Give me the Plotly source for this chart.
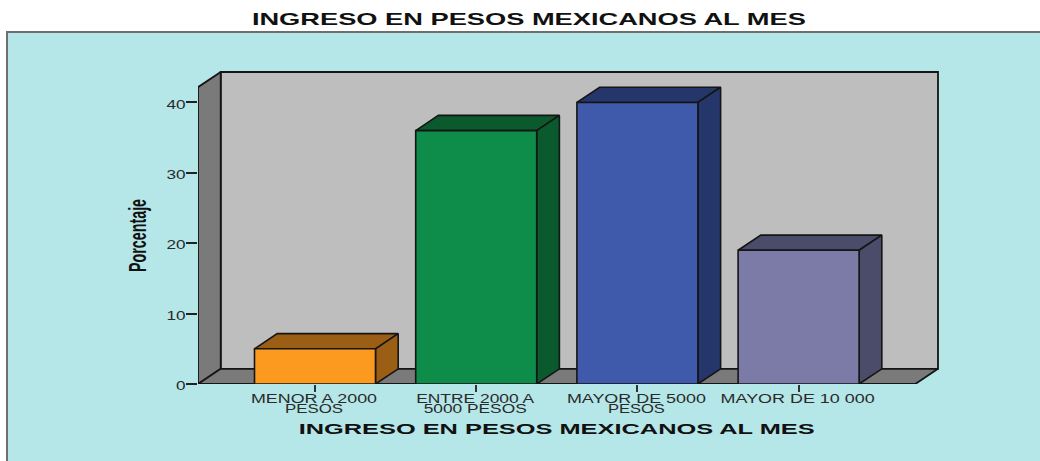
import json
import plotly.graph_objects as go

# Income distribution data
categories = [["MENOR A 2000", "PESOS"], ["ENTRE 2000 A", "5000 PESOS"],
              ["MAYOR DE 5000", "PESOS"], ["MAYOR DE 10 000"]]
values = [5, 36, 40, 19]
front_colors = ["#FB9A1F", "#0E8C49", "#3F5AAB", "#7C7BA8"]
side_colors = ["#9A5F14", "#0A5A2E", "#25366B", "#4B4B6A"]
y_ticks = [0, 10, 20, 30, 40]
title_text = "INGRESO EN PESOS MEXICANOS AL MES"
y_title = "Porcentaje"

# Figure layout in pixels
W, H = 1040, 461
PL, PB = 198, 384.5
BOX_R, BOX_T = 938, 72      # outer edge of the 3D box
AREA_R, AREA_T = 942, 68    # plot area, a little larger so box outlines are not cut
PX_PER_CAT = 161.2
PX_PER_UNIT = 7.05
X0_PX = 315
DEPTH_X = 22.7 / PX_PER_CAT
DEPTH_Y = 15.2 / PX_PER_UNIT
BAR_W = 121 / PX_PER_CAT
X_MIN = (PL - X0_PX) / PX_PER_CAT
X_MAX = (BOX_R - X0_PX) / PX_PER_CAT
Y_MAX = (PB - BOX_T) / PX_PER_UNIT
WALL_TOP = Y_MAX - DEPTH_Y
EDGE = "#151515"
LABEL_COLOR = "#2a2a2a"
SANS = "Liberation Sans"

# Rendered widths of the wide-set labels, in pixels
label_widths = [[126, 58], [118, 103], [139, 57], [154]]
LABEL_LEADING = 9.7
TICK_STRETCH = 1.43


def px(x):
    return (x - PL) / (AREA_R - PL)


def py(y):
    return (PB - y) / (PB - AREA_T)


def poly(xs, ys, fill, width=1.6, edge=EDGE):
    return go.Scatter(x=xs + xs[:1], y=ys + ys[:1], mode="lines", fill="toself",
                      fillcolor=fill, line=dict(color=edge, width=width),
                      cliponaxis=False, showlegend=False, hoverinfo="skip")


fig = go.Figure()

# Back wall, left wall and floor of the 3D box
back_l, back_r = X_MIN + DEPTH_X, X_MAX
front_r = X_MAX - DEPTH_X
fig.add_trace(poly([back_l, back_r, back_r, back_l],
                   [DEPTH_Y, DEPTH_Y, Y_MAX, Y_MAX], "#BEBEBE", width=1.8))
fig.add_trace(poly([X_MIN, back_l, back_l, X_MIN],
                   [0, DEPTH_Y, Y_MAX, WALL_TOP], "#7A7A7A", width=1.8))
fig.add_trace(poly([X_MIN, front_r, back_r, back_l],
                   [0, 0, DEPTH_Y, DEPTH_Y], "#7A7A7A", width=1.8))

# Extruded bars: top, side, then front face
for i, v in enumerate(values):
    l, r = i - BAR_W / 2, i + BAR_W / 2
    fig.add_trace(poly([l, r, r + DEPTH_X, l + DEPTH_X],
                       [v, v, v + DEPTH_Y, v + DEPTH_Y], side_colors[i]))
    fig.add_trace(poly([r, r + DEPTH_X, r + DEPTH_X, r],
                       [0, DEPTH_Y, v + DEPTH_Y, v], side_colors[i]))
    fig.add_trace(poly([l, r, r, l], [0, 0, v, v], front_colors[i]))


def note(text, x, y, size, angle=0):
    return dict(text=text, x=x, xref="paper", y=py(y), yref="paper", showarrow=False,
                xanchor="center", yanchor="middle", textangle=angle,
                font=dict(family=SANS, size=size, color="#111", weight="bold"))


annotations = [
    note(title_text, px(529), 19.5, 17),
    note(title_text, px(556.5), 429, 15.5),
    note(y_title, px(137.5), 236, 23, angle=-90),
]
text_widths = [554, 516, 73]

panel = dict(type="rect", xref="paper", yref="paper", layer="below",
             x0=px(7), x1=px(1050), y0=py(32), y1=py(475),
             fillcolor="#B5E6E8", line=dict(color="#6E6E6E", width=2))

fig.update_layout(
    width=W, height=H, autosize=False,
    margin=dict(l=PL, r=W - AREA_R, t=AREA_T, b=H - PB, pad=0),
    paper_bgcolor="white", plot_bgcolor="rgba(0,0,0,0)",
    shapes=[panel], annotations=annotations,
    xaxis=dict(range=[X_MIN, (AREA_R - X0_PX) / PX_PER_CAT], tickmode="array",
               tickvals=list(range(len(categories))),
               ticktext=["<br>".join(lines) for lines in categories],
               tickangle=0, ticks="outside", ticklen=7, tickwidth=1.5, tickcolor="#333",
               ticklabelstandoff=-3, ticklabelshift=-1,
               tickfont=dict(family=SANS, size=12, color=LABEL_COLOR),
               showgrid=False, zeroline=False, showline=False),
    yaxis=dict(range=[0, (PB - AREA_T) / PX_PER_UNIT], tickmode="array", tickvals=y_ticks,
               ticks="outside", ticklen=11, tickwidth=1.5, tickcolor="#222",
               ticklabelstandoff=-2, ticklabelshift=2,
               tickfont=dict(family=SANS, size=12, color=LABEL_COLOR),
               showgrid=False, zeroline=False, showline=False),
)

# The chart's lettering is set wide and its two-line labels sit close together:
# fit each text to its width with SVG textLength and tighten the line spacing.
fit_text = """
var gd = document.querySelector('.plotly-graph-div');
var widths = %s, labels = %s, leading = %s;
function fit(t, w) {
  t.setAttribute('textLength', w);
  t.setAttribute('lengthAdjust', 'spacingAndGlyphs');
}
gd.querySelectorAll('.annotation-text').forEach(function (t, i) { fit(t, widths[i]); });
gd.querySelectorAll('.ytick text').forEach(function (t) {
  fit(t, t.getComputedTextLength() * %s);
});
gd.querySelectorAll('.xtick text').forEach(function (t, i) {
  var lines = t.querySelectorAll('tspan.line');
  if (!lines.length) { fit(t, labels[i][0]); return; }
  lines.forEach(function (s, j) {
    fit(s, labels[i][j]);
    if (j > 0) { s.setAttribute('dy', leading + 'px'); }
  });
});
""" % (json.dumps(text_widths), json.dumps(label_widths), LABEL_LEADING, TICK_STRETCH)

fig.write_html("out.html", post_script=fit_text)
